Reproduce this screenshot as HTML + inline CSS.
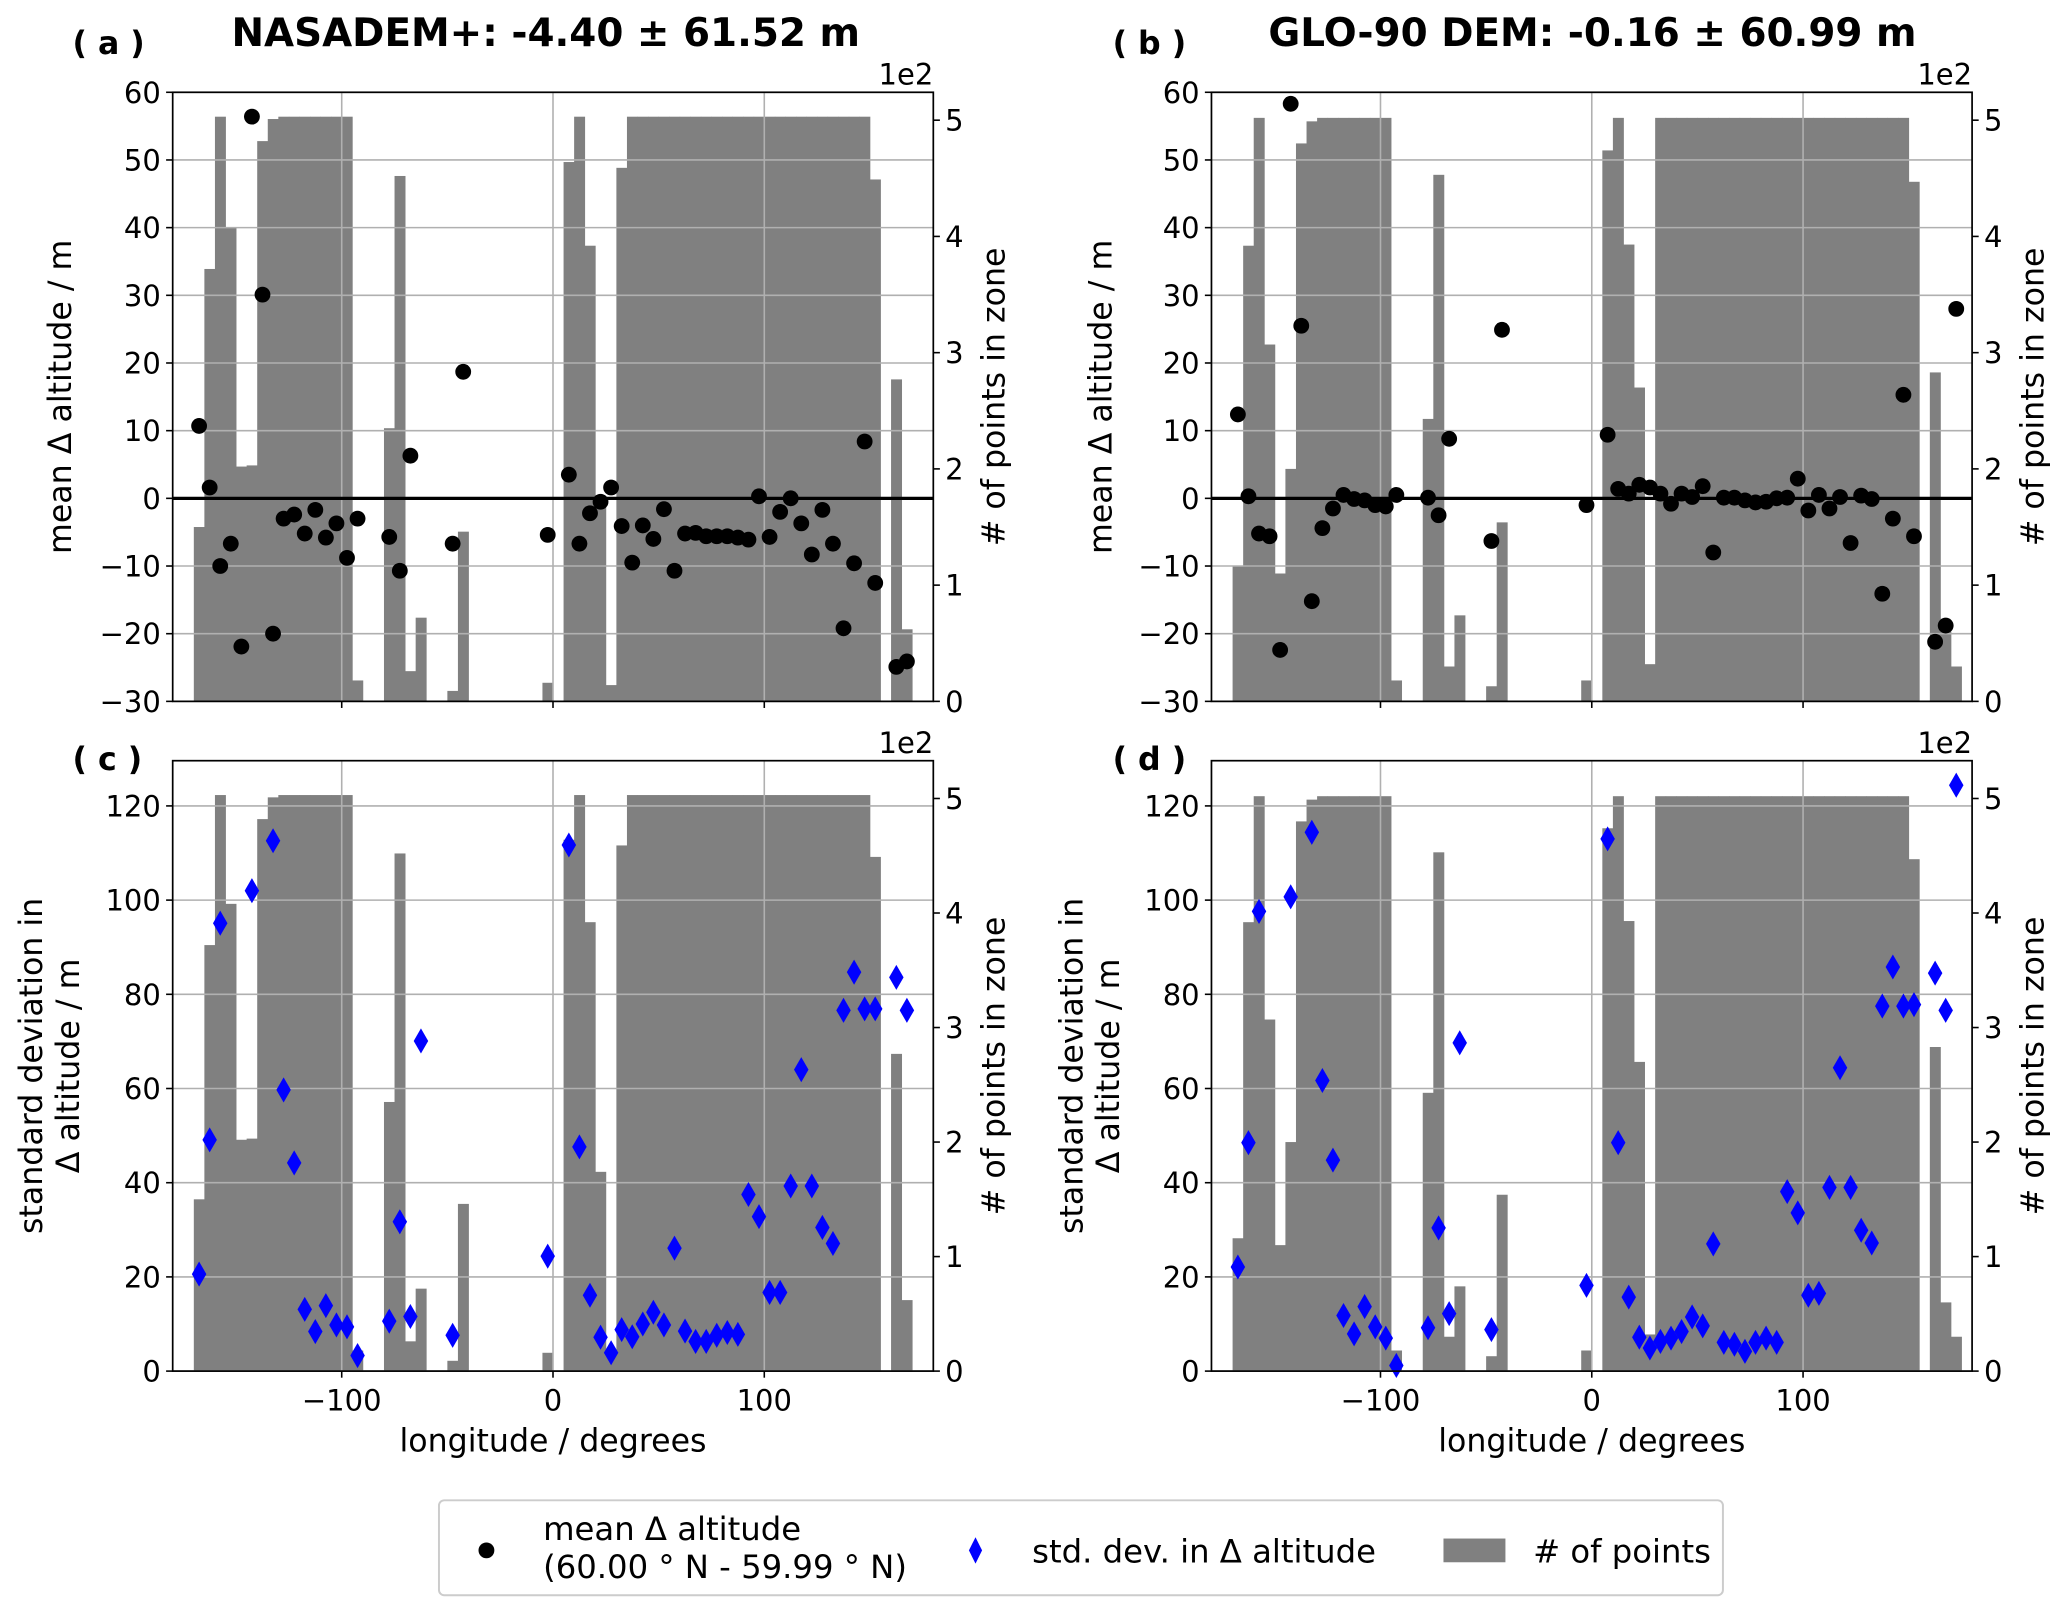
<!DOCTYPE html>
<html><head><meta charset="utf-8"><style>
html,body{margin:0;padding:0;background:#fff;}
svg{display:block;font-family:"DejaVu Sans","Liberation Sans",sans-serif;}
</style></head><body>
<svg id="fig" width="2067" height="1615" viewBox="0 0 1568 1225" preserveAspectRatio="none" xmlns="http://www.w3.org/2000/svg">
<rect x="0" y="0" width="1568" height="1225" fill="#fff"/>
<text x="55" y="41" font-size="24" font-weight="bold">( a )</text>
<text x="844" y="41" font-size="24" font-weight="bold">( b )</text>
<text x="55" y="584" font-size="24" font-weight="bold">( c )</text>
<text x="844" y="584" font-size="24" font-weight="bold">( d )</text>
<text x="414" y="35" font-size="29.5" font-weight="bold" text-anchor="middle">NASADEM+: -4.40 ± 61.52 m</text>
<text x="1208" y="35" font-size="29.5" font-weight="bold" text-anchor="middle">GLO-90 DEM: -0.16 ± 60.99 m</text>
<g id="panels"></g>
<g>
<rect x="333" y="1138" width="974" height="72" rx="4" fill="#fff" stroke="#cccccc" stroke-width="1.5"/>
<circle cx="369" cy="1176" r="6" fill="#000"/>
<text x="412" y="1168" font-size="24.5">mean Δ altitude</text>
<text x="412" y="1197" font-size="24.5">(60.00 ° N - 59.99 ° N)</text>
<polygon points="740,1166 745,1176 740,1186 735,1176" fill="#0000ff"/>
<text x="783" y="1185" font-size="24.5">std. dev. in Δ altitude</text>
<rect x="1095" y="1167" width="47" height="18" fill="#808080"/>
<text x="1163" y="1185" font-size="24.5"># of points</text>
</g>
</svg>
<script>
const binStart = -170, binWidth = 5;
const histNasadem = [1.50,3.72,5.03,4.08,2.02,2.03,4.82,5.01,5.03,5.03,5.03,5.03,5.03,5.03,5.03,0.18,0,0,2.35,4.52,0.26,0.72,0,0,0.09,1.46,0,0,0,0,0,0,0,0.16,0,4.64,5.03,3.92,1.74,0.14,4.59,5.03,5.03,5.03,5.03,5.03,5.03,5.03,5.03,5.03,5.03,5.03,5.03,5.03,5.03,5.03,5.03,5.03,5.03,5.03,5.03,5.03,5.03,5.03,4.49,0,2.77,0.62,0];
const histGlo = [1.16,3.92,5.02,3.07,1.10,2.00,4.80,4.99,5.02,5.02,5.02,5.02,5.02,5.02,5.02,0.18,0,0,2.43,4.53,0.30,0.74,0,0,0.13,1.54,0,0,0,0,0,0,0,0.18,0,4.74,5.02,3.93,2.70,0.32,5.02,5.02,5.02,5.02,5.02,5.02,5.02,5.02,5.02,5.02,5.02,5.02,5.02,5.02,5.02,5.02,5.02,5.02,5.02,5.02,5.02,5.02,5.02,5.02,4.47,0,2.83,0.60,0.30];

const lonA = [-167.5,-162.5,-157.5,-152.5,-147.5,-142.5,-137.5,-132.5,-127.5,-122.5,-117.5,-112.5,-107.5,-102.5,-97.5,-92.5,-77.5,-72.5,-67.5,-47.5,-42.5,-2.5,7.5,12.5,17.5,22.5,27.5,32.5,37.5,42.5,47.5,52.5,57.5,62.5,67.5,72.5,77.5,82.5,87.5,92.5,97.5,102.5,107.5,112.5,117.5,122.5,127.5,132.5,137.5,142.5,147.5,152.5,162.5,167.5];
const meanA = [10.7,1.6,-10.0,-6.7,-21.9,56.4,30.1,-20.0,-3.0,-2.4,-5.2,-1.7,-5.8,-3.7,-8.8,-3.0,-5.7,-10.7,6.3,-6.7,18.7,-5.4,3.5,-6.7,-2.2,-0.5,1.6,-4.1,-9.5,-4.0,-6.0,-1.6,-10.7,-5.2,-5.1,-5.6,-5.6,-5.6,-5.8,-6.1,0.3,-5.7,-2.0,0.0,-3.7,-8.3,-1.7,-6.7,-19.2,-9.6,8.4,-12.5,-24.9,-24.1];
const lonB = [-167.5,-162.5,-157.5,-152.5,-147.5,-142.5,-137.5,-132.5,-127.5,-122.5,-117.5,-112.5,-107.5,-102.5,-97.5,-92.5,-77.5,-72.5,-67.5,-47.5,-42.5,-2.5,7.5,12.5,17.5,22.5,27.5,32.5,37.5,42.5,47.5,52.5,57.5,62.5,67.5,72.5,77.5,82.5,87.5,92.5,97.5,102.5,107.5,112.5,117.5,122.5,127.5,132.5,137.5,142.5,147.5,152.5,162.5,167.5,172.5];
const meanB = [12.4,0.3,-5.2,-5.6,-22.4,58.3,25.5,-15.2,-4.4,-1.5,0.5,-0.1,-0.3,-1.0,-1.2,0.5,0.1,-2.5,8.8,-6.3,24.9,-1.0,9.4,1.4,0.7,2.0,1.6,0.7,-0.8,0.7,0.2,1.8,-8.0,0.1,0.1,-0.3,-0.6,-0.5,0.0,0.1,2.9,-1.8,0.5,-1.5,0.2,-6.6,0.4,-0.1,-14.1,-3.0,15.3,-5.6,-21.2,-18.8,28.0];
const lonC = [-167.5,-162.5,-157.5,-142.5,-132.5,-127.5,-122.5,-117.5,-112.5,-107.5,-102.5,-97.5,-92.5,-77.5,-72.5,-67.5,-62.5,-47.5,-2.5,7.5,12.5,17.5,22.5,27.5,32.5,37.5,42.5,47.5,52.5,57.5,62.5,67.5,72.5,77.5,82.5,87.5,92.5,97.5,102.5,107.5,112.5,117.5,122.5,127.5,132.5,137.5,142.5,147.5,152.5,162.5,167.5];
const stdC = [20.6,49.1,95.1,102.0,112.6,59.7,44.2,13.1,8.4,13.9,9.8,9.4,3.3,10.6,31.7,11.6,70.1,7.6,24.4,111.7,47.6,16.1,7.2,3.9,8.8,7.3,10.0,12.5,9.8,26.1,8.5,6.3,6.3,7.6,8.2,7.8,37.5,32.8,16.7,16.7,39.3,64.0,39.3,30.5,27.1,76.6,84.7,76.9,76.9,83.6,76.6];
const lonD = [-167.5,-162.5,-157.5,-142.5,-132.5,-127.5,-122.5,-117.5,-112.5,-107.5,-102.5,-97.5,-92.5,-77.5,-72.5,-67.5,-62.5,-47.5,-2.5,7.5,12.5,17.5,22.5,27.5,32.5,37.5,42.5,47.5,52.5,57.5,62.5,67.5,72.5,77.5,82.5,87.5,92.5,97.5,102.5,107.5,112.5,117.5,122.5,127.5,132.5,137.5,142.5,147.5,152.5,162.5,167.5,172.5];
const stdD = [22.1,48.5,97.6,100.7,114.4,61.7,44.8,11.8,7.9,13.7,9.4,7.0,1.2,9.2,30.4,12.2,69.7,8.8,18.2,113.0,48.5,15.7,7.2,4.9,6.3,7.0,8.4,11.5,9.6,27.0,6.1,5.7,4.2,6.1,7.0,6.1,38.1,33.6,16.1,16.5,39.0,64.4,39.0,29.9,27.2,77.5,85.8,77.5,77.8,84.5,76.6,124.4];

const xTicks = [-100, 0, 100];
const xTickLabels = ["\u2212100", "0", "100"];
const meanTicks = [-30,-20,-10,0,10,20,30,40,50,60];
const meanTickLabels = ["\u221230","\u221220","\u221210","0","10","20","30","40","50","60"];
const stdTicks = [0,20,40,60,80,100,120];
const stdTickLabels = ["0","20","40","60","80","100","120"];
const countTicks = [0,1,2,3,4,5];
const countTickLabels = ["0","1","2","3","4","5"];

const NS = "http://www.w3.org/2000/svg";
const root = document.getElementById('panels');
function mk(tag, attrs, parent) {
  const e = document.createElementNS(NS, tag);
  for (const k in attrs) e.setAttribute(k, attrs[k]);
  (parent || root).appendChild(e);
  return e;
}

function panel(p) {
  const g = mk('g', {});
  
  
  const sx = v => p.x0 + (v + 180) / 360 * (p.x1 - p.x0);
  const sy = v => p.y1 - (v - p.ymin) / (p.ymax - p.ymin) * (p.y1 - p.y0);
  const sy2 = v => p.y1 - v / p.rmax * (p.y1 - p.y0);
  p.hist.forEach((h, i) => {
    if (!h) return;
    const l = binStart + i * binWidth;
    const r = mk('rect', {x: sx(l), y: sy2(h), width: sx(l + binWidth) - sx(l) + 0.3, height: p.y1 - sy2(h), fill: '#808080'}, g);
    
    
  });
  xTicks.forEach(t => {
    const l = mk('line', {x1: sx(t), x2: sx(t), y1: p.y0, y2: p.y1, stroke: '#b0b0b0', 'stroke-width': 1.2}, g);
    
    
  });
  p.ticks.forEach(t => {
    const l = mk('line', {x1: p.x0, x2: p.x1, y1: sy(t), y2: sy(t), stroke: '#b0b0b0', 'stroke-width': 1.2}, g);
    
    
  });
  if (p.zeroLine) {
    const z = mk('line', {x1: p.x0, x2: p.x1, y1: sy(0), y2: sy(0), stroke: '#000', 'stroke-width': 2.5}, g);
    
    
  }
  p.lons.forEach((lon, i) => {
    const v = p.vals[i];
    if (v === null || v === undefined) return;
    const cx = sx(lon), cy = sy(v);
    let m;
    if (p.marker === 'circle') {
      m = mk('circle', {cx: cx, cy: cy, r: 6, fill: '#000'}, g);
      
    } else {
      m = mk('polygon', {points: `${cx},${cy-9.5} ${cx+5.5},${cy} ${cx},${cy+9.5} ${cx-5.5},${cy}`, fill: '#0000ff'}, g);
      
    }
    
  });
  const f = mk('rect', {x: p.x0, y: p.y0, width: p.x1 - p.x0, height: p.y1 - p.y0, fill: 'none', stroke: '#000', 'stroke-width': 1.3}, g);
  
  
  p.ticks.forEach((t, i) => {
    mk('line', {x1: p.x0 - 5, x2: p.x0, y1: sy(t), y2: sy(t), stroke: '#000', 'stroke-width': 1.2}, g);
    const tx = mk('text', {x: p.x0 - 9, y: sy(t) + 8, 'font-size': 22, 'text-anchor': 'end'}, g);
    tx.textContent = p.tickLabels[i];
    
    
  });
  countTicks.forEach((t, i) => {
    mk('line', {x1: p.x1, x2: p.x1 + 5, y1: sy2(t), y2: sy2(t), stroke: '#000', 'stroke-width': 1.2}, g);
    const tx = mk('text', {x: p.x1 + 9, y: sy2(t) + 8, 'font-size': 22}, g);
    tx.textContent = countTickLabels[i];
    
    
  });
  const e2 = mk('text', {x: p.x1, y: p.y0 - 6, 'font-size': 22, 'text-anchor': 'end'}, g);
  e2.textContent = '1e2';
  
  
  xTicks.forEach((t, i) => {
    mk('line', {x1: sx(t), x2: sx(t), y1: p.y1, y2: p.y1 + 5, stroke: '#000', 'stroke-width': 1.2}, g);
    if (p.xLabels) {
      const tx = mk('text', {x: sx(t), y: p.y1 + 30, 'font-size': 22, 'text-anchor': 'middle'}, g);
      tx.textContent = xTickLabels[i];
      
      
    }
  });
  if (p.xLabels) {
    const xl = mk('text', {x: (p.x0 + p.x1) / 2, y: p.y1 + 61, 'font-size': 24, 'text-anchor': 'middle'}, g);
    xl.textContent = 'longitude / degrees';
    
    
  }
  const cy = (p.y0 + p.y1) / 2;
  p.ylabel.forEach((s, i) => {
    const x = p.ylabelX + i * 28;
    const yl = mk('text', {x: x, y: cy, 'font-size': 24, 'text-anchor': 'middle', transform: `rotate(-90 ${x} ${cy})`}, g);
    yl.textContent = s;
    
    
  });
  const rx = p.x1 + 54;
  const rl = mk('text', {x: rx, y: cy, 'font-size': 24, 'text-anchor': 'middle', transform: `rotate(-90 ${rx} ${cy})`}, g);
  rl.textContent = '# of points in zone';
  
  
}

const topCfg = {y0: 70, y1: 532, ymin: -30, ymax: 60, rmax: 5.24, ticks: meanTicks, tickLabels: meanTickLabels, marker: 'circle', zeroLine: true, xLabels: false};
const botCfg = {y0: 577, y1: 1040, ymin: 0, ymax: 129.6, rmax: 5.33, ticks: stdTicks, tickLabels: stdTickLabels, marker: 'diamond', zeroLine: false, xLabels: true};
panel(Object.assign({}, topCfg, {name: 'panel-a', x0: 131, x1: 708, hist: histNasadem, lons: lonA, vals: meanA, ylabel: ['mean Δ altitude / m'], ylabelX: 54}));
panel(Object.assign({}, topCfg, {name: 'panel-b', x0: 919, x1: 1496, hist: histGlo, lons: lonB, vals: meanB, ylabel: ['mean Δ altitude / m'], ylabelX: 843}));
panel(Object.assign({}, botCfg, {name: 'panel-c', x0: 131, x1: 708, hist: histNasadem, lons: lonC, vals: stdC, ylabel: ['standard deviation in', 'Δ altitude / m'], ylabelX: 32}));
panel(Object.assign({}, botCfg, {name: 'panel-d', x0: 919, x1: 1496, hist: histGlo, lons: lonD, vals: stdD, ylabel: ['standard deviation in', 'Δ altitude / m'], ylabelX: 821}));
</script>
</body></html>
